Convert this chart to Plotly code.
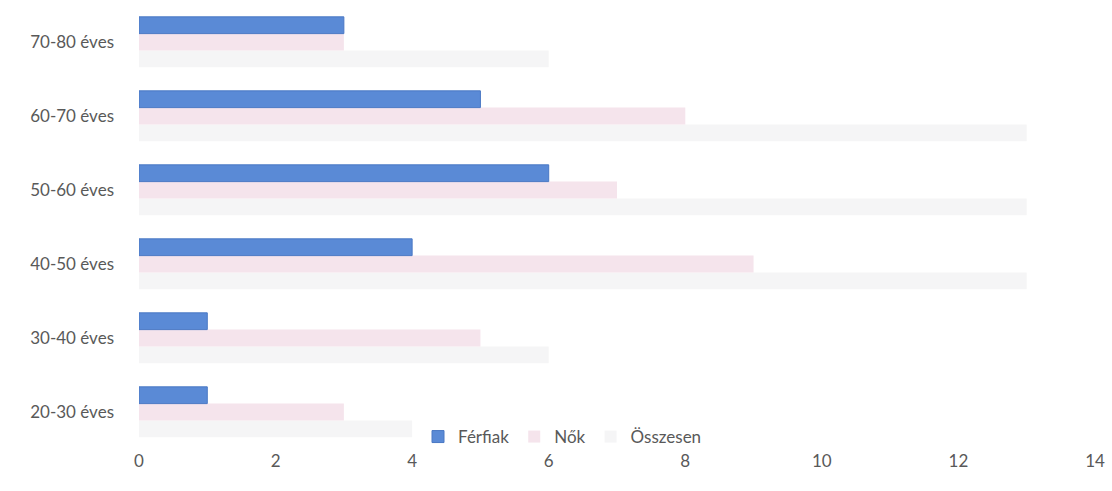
import plotly.graph_objects as go

categories = ["20-30 éves", "30-40 éves", "40-50 éves", "50-60 éves", "60-70 éves", "70-80 éves"]
ferfiak = [1, 1, 4, 6, 5, 3]
nok = [3, 5, 9, 7, 8, 3]
osszesen = [4, 6, 13, 13, 13, 6]
x_ticks = [0, 2, 4, 6, 8, 10, 12, 14]

fig = go.Figure()
fig.add_trace(go.Bar(y=categories, x=osszesen, name="Összesen", orientation="h",
                     marker=dict(color="#F5F5F6", line=dict(width=0)), legendrank=3))
fig.add_trace(go.Bar(y=categories, x=nok, name="Nők", orientation="h",
                     marker=dict(color="#F5E4EC", line=dict(width=0)), legendrank=2))
fig.add_trace(go.Bar(y=categories, x=ferfiak, name="Férfiak", orientation="h",
                     marker=dict(color="#5A8AD6", line=dict(width=1, color="#4A78C4")), legendrank=1))

fig.update_layout(
    width=1112, height=491,
    margin=dict(l=139, r=17, t=5, b=42),
    paper_bgcolor="white", plot_bgcolor="white",
    barmode="group", bargap=0.32, bargroupgap=0,
    font=dict(family="Lato, Open Sans, sans-serif", size=17, color="#595959"),
    xaxis=dict(range=[0, 14], tickvals=x_ticks, showgrid=False, zeroline=False,
               showline=False, ticks="", automargin=False,
               tickfont=dict(size=17, color="#595959")),
    yaxis=dict(categoryorder="array", categoryarray=categories, showgrid=False,
               zeroline=False, showline=False, ticks="", ticklabelstandoff=24,
               automargin=False, tickfont=dict(size=17, color="#595959")),
    legend=dict(orientation="h", x=0.443, xanchor="center", y=0.027, yanchor="middle",
                bgcolor="rgba(0,0,0,0)", font=dict(size=17, color="#595959"),
                itemwidth=30, tracegroupgap=0),
    showlegend=True,
)

fig.write_html("out.html", config={"displayModeBar": False},
               post_script="document.body.style.margin='0';document.body.style.overflow='hidden';")
